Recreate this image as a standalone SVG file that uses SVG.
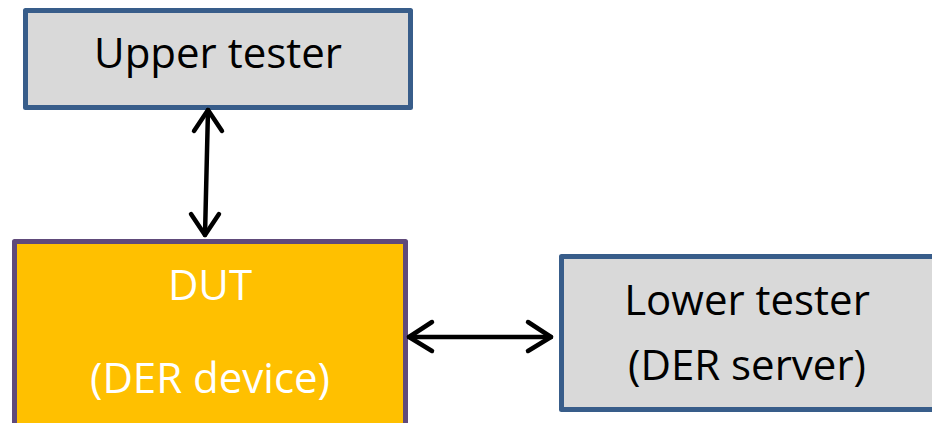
<svg xmlns="http://www.w3.org/2000/svg" width="932" height="423" viewBox="0 0 932 423">
<style>
.box{stroke-width:5;stroke-linejoin:round}
.gray{fill:#D9D9D9;stroke:#385D8A}
.dut{fill:#FFC000;stroke:#604A7B}
text{font-family:"Open Sans","Noto Sans",sans-serif;font-size:42px;text-anchor:middle}
.dark{fill:#000}
.light{fill:#fff}
.conn{stroke:#000;stroke-width:4.5;fill:none;stroke-linecap:round;stroke-linejoin:round}
</style>
<rect width="932" height="423" fill="#fff"/>
<g id="upper-tester">
<rect class="box gray" x="25.5" y="10.5" width="385" height="97"/>
<text class="dark" x="218" y="68">Upper tester</text>
</g>
<g id="dut">
<rect class="box dut" x="14.5" y="241.5" width="391" height="200"/>
<text class="light" x="210" y="300">DUT</text>
<text class="light" x="210" y="393">(DER device)</text>
</g>
<g id="lower-tester">
<rect class="box gray" x="561.5" y="256.5" width="400" height="153"/>
<text class="dark" x="747" y="315">Lower tester</text>
<text class="dark" x="747" y="380">(DER server)</text>
</g>
<g id="connectors">
<path class="conn" d="M208 110 L205 235"/>
<path class="conn" d="M194 131 L208 110 L222 131"/>
<path class="conn" d="M191 214 L205 235 L219 214"/>
<path class="conn" d="M409 337 L551 337"/>
<path class="conn" d="M432 322 L409 337 L432 351"/>
<path class="conn" d="M528 322 L551 337 L528 351"/>
</g>
</svg>
